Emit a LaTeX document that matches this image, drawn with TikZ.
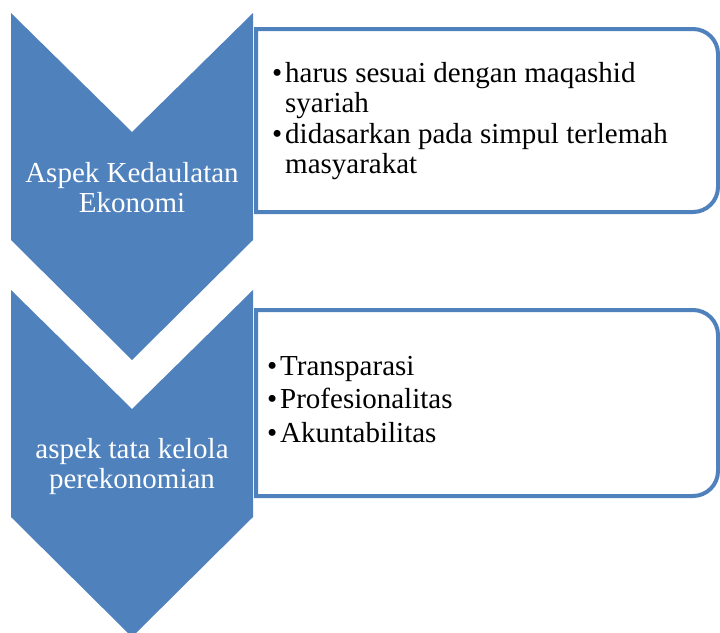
\documentclass[tikz,border=0pt]{standalone}
\usepackage{fontspec}
\setmainfont{Liberation Serif}
\definecolor{chevblue}{HTML}{4F81BD}
\newcommand\bul{\makebox[13pt][l]{\textbullet}}

\begin{document}
\begin{tikzpicture}[x=1pt,y=-1pt,
  chevron/.style={fill=chevblue},
  listbox/.style={draw=chevblue,line width=4pt,fill=white},
  chevtext/.style={white,inner sep=0pt,align=center,font=\fontsize{29}{30}\selectfont},
  itemtext/.style={anchor=base west,inner sep=0pt,align=left,font=\fontsize{29}{30}\selectfont}]
  \useasboundingbox (0,0) rectangle (720,632);
  % kotak daftar (sisi kanan membulat)
  \draw[listbox] (256,212) -- (256,29) [rounded corners=25pt] -- (718,29) -- (718,212) [sharp corners] -- cycle;
  \draw[listbox] (256,496) -- (256,310) [rounded corners=25pt] -- (718,310) -- (718,496) [sharp corners] -- cycle;
  % chevron
  \fill[chevron] (11,13) -- (132,132) -- (253,13) -- (253,240) -- (132,360) -- (11,240) -- cycle;
  \fill[chevron] (11,290) -- (132,409) -- (253,290) -- (253,517) -- (132,637) -- (11,517) -- cycle;
  % base = baris terakhir
  \node[chevtext,anchor=base] (kedaulatan) at (132,212) {Aspek Kedaulatan\\Ekonomi};
  \node[chevtext,anchor=base] (tatakelola) at (132,488) {aspek tata kelola\\perekonomian};
  % isi kotak
  \node[itemtext] (maqashid) at (272,112) {\bul harus sesuai dengan maqashid\\\hspace*{13pt}syariah};
  \node[itemtext] (simpul) at (272,173) {\bul didasarkan pada simpul terlemah\\\hspace*{13pt}masyarakat};
  \node[itemtext] (transparasi) at (267,375) {\bul Transparasi};
  \node[itemtext] (profesional) at (267,408) {\bul Profesionalitas};
  \node[itemtext] (akuntabel) at (267,442) {\bul Akuntabilitas};
\end{tikzpicture}
\end{document}
